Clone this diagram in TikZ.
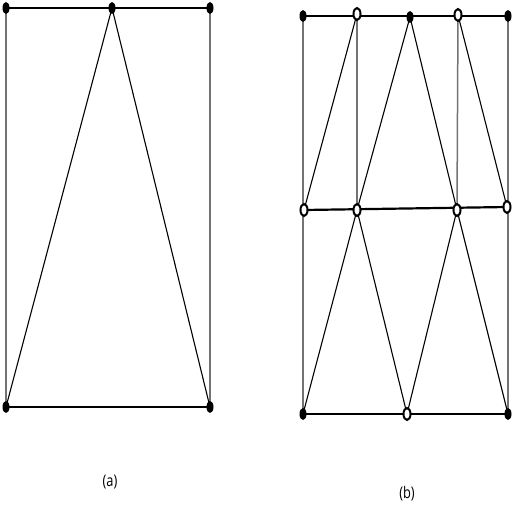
\documentclass[tikz,border=0pt]{standalone}
\usepackage{fontspec}
\setmainfont{Open Sans}
\usetikzlibrary{shapes.geometric}
\begin{document}
\begin{tikzpicture}[x=1pt,y=-1pt,
  fdot/.style={ellipse,fill=black,inner sep=0pt,minimum width=7pt,minimum height=12pt},
  odot/.style={ellipse,draw=black,fill=white,line width=2pt,inner sep=0pt,minimum width=7pt,minimum height=12pt},
  hline/.style={line width=2.2pt,black},
  vline/.style={line width=1.5pt,black!55},
  dline/.style={line width=1.1pt,black},
  lab/.style={font=\fontsize{16}{18}\selectfont,xscale=0.8}]
\useasboundingbox (0,0) rectangle (512,512);
% ---- (a) ----
\coordinate (a1) at (6,8);
\coordinate (a2) at (112,8);
\coordinate (a3) at (210,8);
\coordinate (a4) at (6,407);
\coordinate (a5) at (210,407);
\draw[vline] (a1) -- (a4);
\draw[vline] (a3) -- (a5);
\draw[dline] (a2) -- (a4);
\draw[dline] (a2) -- (a5);
\draw[hline] (a1) -- (a3);
\draw[hline] (a4) -- (a5);
\node[fdot] at (a1) {};
\node[fdot] at (a2) {};
\node[fdot] at (a3) {};
\node[fdot] at (a4) {};
\node[fdot] at (a5) {};
\node[lab] (la) at (110,482) {(a)};
% ---- (b) ----
\coordinate (t1) at (303,16);
\coordinate (t2) at (357,14);
\coordinate (t3) at (410,17);
\coordinate (t4) at (458,15);
\coordinate (t5) at (508,16);
\coordinate (m1) at (304,210);
\coordinate (m2) at (357,210);
\coordinate (m3) at (457,210);
\coordinate (m4) at (507,207);
\coordinate (b1) at (303,414);
\coordinate (b2) at (407,414);
\coordinate (b3) at (508,414);
\draw[vline] (t1) -- (b1);
\draw[vline] (t5) -- (b3);
\draw[vline] (t2) -- (m2);
\draw[vline] (t4) -- (m3);
\draw[dline] (t2) -- (m1);
\draw[dline] (t3) -- (m2);
\draw[dline] (t3) -- (m3);
\draw[dline] (t4) -- (m4);
\draw[dline] (m2) -- (b1);
\draw[dline] (m2) -- (b2);
\draw[dline] (m3) -- (b2);
\draw[dline] (m3) -- (b3);
\draw[hline] (t1) -- (t5);
\draw[hline] (m1) -- (m4);
\draw[hline] (b1) -- (b3);
\node[fdot] at (t1) {};
\node[odot] at (t2) {};
\node[fdot] at (t3) {};
\node[odot] at (t4) {};
\node[fdot] at (t5) {};
\node[odot] at (m1) {};
\node[odot] at (m2) {};
\node[odot] at (m3) {};
\node[odot] at (m4) {};
\node[fdot] at (b1) {};
\node[odot] at (b2) {};
\node[fdot] at (b3) {};
\node[lab] (lb) at (407,494) {(b)};
\end{tikzpicture}
\end{document}
